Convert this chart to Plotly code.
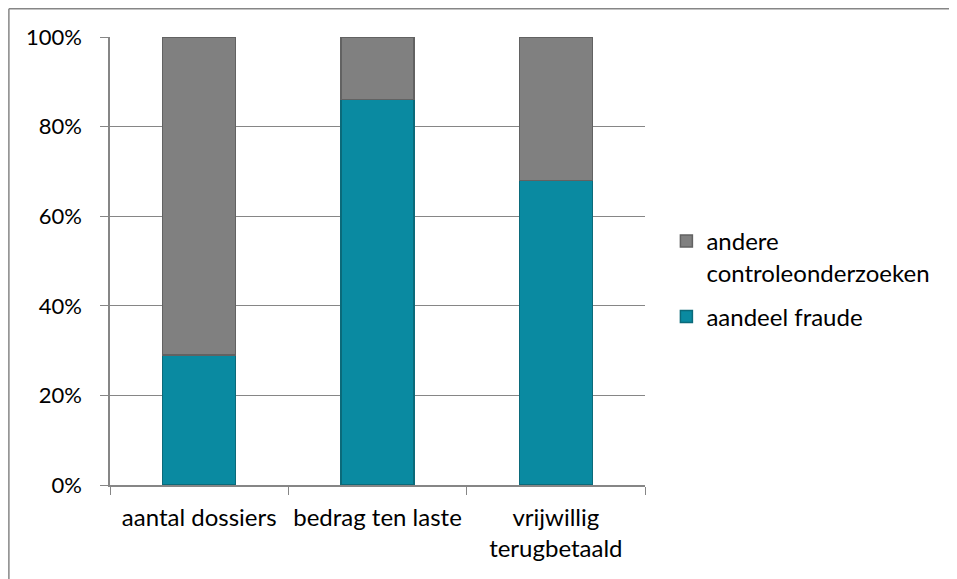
import plotly.graph_objects as go

categories = ["aantal dossiers", "bedrag ten laste", "vrijwillig<br>terugbetaald"]
fraude = [29, 86, 68]
andere = [71, 14, 32]
y_ticks = [0, 20, 40, 60, 80, 100]
y_tick_labels = ["0%", "20%", "40%", "60%", "80%", "100%"]

teal = "#0A8AA1"
gray = "#808080"
font = "Lato, 'Open Sans', sans-serif"

fig = go.Figure()
fig.add_trace(go.Bar(
    x=categories, y=fraude, name="aandeel fraude",
    legendgroup="f", legendrank=2,
    marker=dict(color=teal, line=dict(color="#0B6A7A", width=1.5)),
    width=0.41,
))
fig.add_trace(go.Bar(
    x=categories, y=andere, name="andere<br>controleonderzoeken",
    legendgroup="a", legendrank=1,
    marker=dict(color=gray, line=dict(color="#626262", width=1.5)),
    width=0.41,
))

fig.update_layout(
    width=949, height=571,
    barmode="stack",
    plot_bgcolor="white", paper_bgcolor="white",
    margin=dict(l=102, r=312, t=29, b=94),
    font=dict(family=font, size=24, color="#000000"),
    showlegend=True,
    legend=dict(
        x=1.04, y=0.46, xanchor="left", yanchor="middle",
        traceorder="grouped", valign="top",
        font=dict(size=24), itemwidth=30, tracegroupgap=10,
    ),
    xaxis=dict(
        showline=True, linecolor="#868686", linewidth=1.5,
        ticks="outside", tickson="boundaries", ticklen=8, tickcolor="#868686",
        tickfont=dict(size=24), ticklabelstandoff=10, tickangle=0,
        showgrid=False, automargin=False,
    ),
    yaxis=dict(
        range=[0, 100],
        tickvals=y_ticks, ticktext=y_tick_labels,
        showline=True, linecolor="#868686", linewidth=1.5,
        ticks="outside", ticklen=8, tickcolor="#868686",
        showgrid=True, gridcolor="#868686", gridwidth=1.2,
        zeroline=False, automargin=False,
        tickfont=dict(size=22),
        ticklabelstandoff=14,
    ),
    shapes=[
        dict(type="line", xref="paper", yref="paper",
             x0=-0.189, x1=1.6, y0=1.063, y1=1.063,
             line=dict(color="#868686", width=1.5)),
        dict(type="line", xref="paper", yref="paper",
             x0=-0.189, x1=-0.189, y0=1.063, y1=-0.3,
             line=dict(color="#868686", width=1.5)),
    ],
)

fig.write_html("out.html")
